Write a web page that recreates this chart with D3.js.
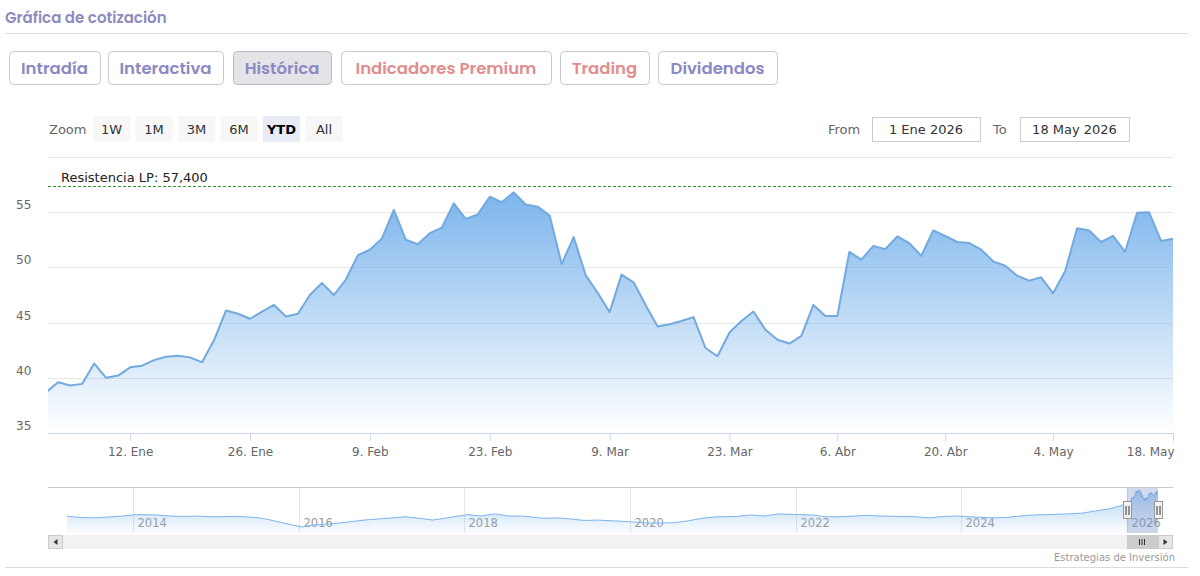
<!DOCTYPE html>
<html>
<head>
<meta charset="utf-8">
<script src="https://cdn.jsdelivr.net/npm/d3@7/dist/d3.min.js"></script>
<style>
	body { margin: 0; background: #fff; }
	text { font-family: "DejaVu Sans", sans-serif; }
	.head { font-family: "Poppins", "Open Sans", sans-serif; font-weight: 600; }
</style>
</head>
<body>
<script>

	var width  = 1200;
	var height = 576;

	var svg = d3.select('body').append('svg')
		.attr('width', width)
		.attr('height', height)
		.style('display', 'block');

	/* ---------------------------- DATA ---------------------------- */

	// market holidays inside the YTD window (no quote on those days)
	var holidays   = ['2026-04-03', '2026-04-06', '2026-05-01'];
	var firstDay   = '2026-01-02';
	var lastDay    = '2026-05-18';

	// last close of 2025, only the clipped segment at the left edge uses it
	var prevClose  = 38.7;

	// daily closes, 2 Ene -> 18 May 2026
	var prices = [
		39.6, 39.3, 39.45, 41.3, 40.0, 40.2, 40.95, 41.1, 41.6, 41.9, 42.0,
		41.85, 41.4, 43.4, 46.1, 45.8, 45.35, 46.0, 46.6, 45.55, 45.8,
		47.5, 48.6, 47.5, 48.9, 51.1, 51.6, 52.6, 55.2, 52.5, 52.1,
		53.1, 53.6, 55.8, 54.4, 54.8, 56.4, 55.9, 56.8, 55.7, 55.5,
		54.7, 50.3, 52.75, 49.3, 47.7, 45.95, 49.35, 48.65, 46.6, 44.65,
		44.85, 45.15, 45.5, 42.7, 41.95, 44.1, 45.15, 46.0, 44.35, 43.45,
		43.1, 43.8,
		46.6, 45.6, 45.6, 51.4, 50.7, 51.95, 51.65, 52.8, 52.2, 51.05,
		53.35, 52.85, 52.3, 52.2, 51.6, 50.55, 50.15, 49.25, 48.8, 49.1,
		47.65, 49.65, 53.55, 53.35, 52.3, 52.85, 51.4, 54.95, 55.0, 52.4, 52.6
	];

	var tickDates  = ['2026-01-12', '2026-01-26', '2026-02-09', '2026-02-23', '2026-03-09',
	                  '2026-03-23', '2026-04-06', '2026-04-20', '2026-05-04', '2026-05-18'];
	var tickLabels = ['12. Ene', '26. Ene', '9. Feb', '23. Feb', '9. Mar',
	                  '23. Mar', '6. Abr', '20. Abr', '4. May', '18. May'];

	var yTicks     = [35, 40, 45, 50, 55, 60];
	var resistance = 57.4;
	var resLabel   = 'Resistencia LP: 57,400';

	// long history for the navigator (roughly every two months)
	var navDates = [
		'2013-03', '2013-05', '2013-07', '2013-09', '2013-11', '2014-01', '2014-04', '2014-06',
		'2014-08', '2014-10', '2014-12', '2015-03', '2015-05', '2015-07', '2015-09', '2015-11',
		'2016-01', '2016-03', '2016-05', '2016-07', '2016-10', '2016-12', '2017-02', '2017-04',
		'2017-06', '2017-08', '2017-10', '2018-01', '2018-03', '2018-05', '2018-07', '2018-09',
		'2018-12', '2019-02', '2019-04', '2019-06', '2019-08', '2019-10', '2020-01', '2020-03',
		'2020-05', '2020-07', '2020-09', '2020-11', '2021-01', '2021-04', '2021-06', '2021-08',
		'2021-10', '2022-01', '2022-03', '2022-05', '2022-07', '2022-09', '2022-11', '2023-01',
		'2023-04', '2023-06', '2023-08', '2023-10', '2023-12', '2024-02', '2024-05', '2024-07',
		'2024-09', '2024-11', '2025-01', '2025-04', '2025-06', '2025-08', '2025-10', '2025-12'
	];
	var navPrices = [
		21, 19, 18.5, 19.8, 21, 23, 22.5, 21,
		20.5, 21, 20, 20.5, 20, 18.5, 14.5, 10,
		6, 9, 10, 12, 15.5, 17, 18.5, 20,
		18, 15.5, 18.5, 23, 21, 24, 21, 21,
		18, 18.5, 17, 15, 15.5, 14.5, 13, 11.5,
		11.5, 12, 14.5, 18, 20, 20.5, 22.5, 21,
		24, 23, 22.5, 20, 20, 21, 22, 21,
		20.5, 20, 18.5, 20.5, 21, 20, 18.5, 19,
		21, 22.5, 23, 24, 25, 28, 31, 36
	];

	var tabNames   = ['Intradía', 'Interactiva', 'Histórica', 'Indicadores Premium', 'Trading', 'Dividendos'];
	var zoomNames  = ['1W', '1M', '3M', '6M', 'YTD', 'All'];
	var fromText   = '1 Ene 2026';
	var toText     = '18 May 2026';

	/* --------------------------- LAYOUT --------------------------- */

	var plot = { left: 48, right: 1173, top: 157, bottom: 433 };
	var nav  = { left: 63, right: 1158, top: 488, bottom: 533 };

	var tabBoxes  = [[9, 91], [108, 115], [233, 98], [341, 210], [560, 89], [658, 119]];
	var tabColor  = ['#8b88c3', '#8b88c3', '#8b88c3', '#e28c8e', '#e28c8e', '#8b88c3'];

	var lineColor = '#72a9df';
	var fillColor = '#7cb5ec';

	/* ---------------------------- HEADER -------------------------- */

	svg.append('text')
		.attr('class', 'head')
		.attr('x', 5).attr('y', 23)
		.attr('font-size', 15)
		.attr('fill', '#8d8bbd')
		.text('Gráfica de cotización');

	hLine(5, 1188, 33.5, '#dcdcdc');

	var tabs = svg.append('g').selectAll('g')
		.data(tabNames)
		.enter().append('g');

	tabs.append('rect')
		.attr('x', function(d, i) { return tabBoxes[i][0] + 0.5; })
		.attr('y', 51.5)
		.attr('width', function(d, i) { return tabBoxes[i][1]; })
		.attr('height', 33)
		.attr('rx', 4)
		.attr('fill', function(d) { return d == 'Histórica' ? '#e3e3e8' : '#fff'; })
		.attr('stroke', function(d) { return d == 'Histórica' ? '#b9b9c2' : '#c9c9d2'; });

	tabs.append('text')
		.attr('class', 'head')
		.attr('x', function(d, i) { return tabBoxes[i][0] + tabBoxes[i][1] / 2; })
		.attr('y', 74)
		.attr('text-anchor', 'middle')
		.attr('font-size', 16.5)
		.attr('fill', function(d, i) { return tabColor[i]; })
		.text(function(d) { return d; });

	/* ------------------------ RANGE SELECTOR ---------------------- */

	svg.append('text')
		.attr('x', 49).attr('y', 134)
		.attr('font-size', 13)
		.attr('fill', '#666')
		.text('Zoom');

	var zb = svg.append('g').selectAll('g')
		.data(zoomNames)
		.enter().append('g')
		.attr('transform', function(d, i) { return 'translate(' + (93 + i * 42.5) + ',116)'; });

	zb.append('rect')
		.attr('width', 37).attr('height', 26)
		.attr('fill', function(d) { return d == 'YTD' ? '#e6ebf5' : '#f7f7f7'; });

	zb.append('text')
		.attr('x', 18.5).attr('y', 18)
		.attr('text-anchor', 'middle')
		.attr('font-size', 13)
		.attr('font-weight', function(d) { return d == 'YTD' ? 'bold' : 'normal'; })
		.attr('fill', function(d) { return d == 'YTD' ? '#000' : '#333'; })
		.text(function(d) { return d; });

	inputBox('From', 828, 872, 108, fromText);
	inputBox('To', 993, 1020, 109, toText);

	function inputBox(label, lx, bx, bw, value) {
		svg.append('text')
			.attr('x', lx).attr('y', 134)
			.attr('font-size', 13).attr('fill', '#666')
			.text(label);
		svg.append('rect')
			.attr('x', bx + 0.5).attr('y', 117.5)
			.attr('width', bw).attr('height', 24)
			.attr('fill', '#fff').attr('stroke', '#ccc');
		svg.append('text')
			.attr('x', bx + bw / 2).attr('y', 134)
			.attr('text-anchor', 'middle')
			.attr('font-size', 13).attr('fill', '#333')
			.text(value);
	}

	/* ------------------------- MAIN CHART ------------------------- */

	var parse = d3.utcParse('%Y-%m-%d');

	// trading days: weekdays minus the holidays
	var days = d3.utcDay.range(parse(firstDay), d3.utcDay.offset(parse(lastDay), 1))
		.filter(function(d) {
			var wd = d.getUTCDay();
			return wd != 0 && wd != 6 && holidays.indexOf(d3.utcFormat('%Y-%m-%d')(d)) < 0;
		});

	var points = [{ i: -1, v: prevClose }].concat(prices.map(function(v, i) {
		return { i: i, v: v };
	}));

	// ordinal axis: one slot per trading day
	var x = d3.scaleLinear()
		.domain([-0.85, days.length - 1])
		.range([plot.left, plot.right]);

	var y = d3.scaleLinear()
		.domain([35, 60])
		.range([plot.bottom, plot.top]);

	var defs = svg.append('defs');

	defs.append('clipPath').attr('id', 'plotClip')
		.append('rect')
		.attr('x', plot.left).attr('y', plot.top - 5)
		.attr('width', plot.right - plot.left + 1)
		.attr('height', plot.bottom - plot.top + 5);

	gradient('mainFill', 1, 0);
	gradient('navFill', 0.6, 0.03);

	function gradient(id, top, bottom) {
		var g = defs.append('linearGradient').attr('id', id)
			.attr('x1', 0).attr('y1', 0).attr('x2', 0).attr('y2', 1);
		g.append('stop').attr('offset', 0).attr('stop-color', fillColor).attr('stop-opacity', top);
		g.append('stop').attr('offset', 1).attr('stop-color', fillColor).attr('stop-opacity', bottom);
	}

	// grid
	svg.append('g').selectAll('line')
		.data(yTicks)
		.enter().append('line')
		.attr('x1', plot.left).attr('x2', plot.right)
		.attr('y1', function(d) { return Math.round(y(d)) + 0.5; })
		.attr('y2', function(d) { return Math.round(y(d)) + 0.5; })
		.attr('stroke', '#e6e6e6');

	svg.append('g').selectAll('text')
		.data(yTicks.slice(0, -1))
		.enter().append('text')
		.attr('x', 16)
		.attr('y', function(d) { return y(d) - 3; })
		.attr('font-size', 12)
		.attr('fill', '#666')
		.text(function(d) { return d; });

	var series = svg.append('g').attr('clip-path', 'url(#plotClip)');

	series.append('path')
		.datum(points)
		.attr('fill', 'url(#mainFill)')
		.attr('d', d3.area()
			.x(function(d) { return x(d.i); })
			.y0(y(35))
			.y1(function(d) { return y(d.v); }));

	series.append('path')
		.datum(points)
		.attr('fill', 'none')
		.attr('stroke', lineColor)
		.attr('stroke-width', 2)
		.attr('stroke-linejoin', 'round')
		.attr('d', d3.line()
			.x(function(d) { return x(d.i); })
			.y(function(d) { return y(d.v); }));

	// long term resistance
	svg.append('line')
		.attr('x1', plot.left).attr('x2', plot.right)
		.attr('y1', Math.round(y(resistance)) + 0.5).attr('y2', Math.round(y(resistance)) + 0.5)
		.attr('stroke', '#2e9a2e')
		.attr('stroke-dasharray', '3,2');

	svg.append('text')
		.attr('x', 61).attr('y', y(resistance) - 4)
		.attr('font-size', 13)
		.attr('fill', '#222')
		.text(resLabel);

	// x axis
	var tickIdx = tickDates.map(function(t) { return d3.bisectLeft(days, parse(t)); });

	var xAxis = svg.append('g')
		.attr('transform', 'translate(0,' + plot.bottom + ')')
		.call(d3.axisBottom(x)
			.tickValues(tickIdx)
			.tickFormat(function(d, k) { return tickLabels[k]; })
			.tickSize(8)
			.tickSizeOuter(0)
			.tickPadding(6));

	xAxis.select('.domain').attr('stroke', '#ccd6eb').attr('d', 'M' + plot.left + ',0.5H' + plot.right);
	xAxis.selectAll('.tick line').attr('stroke', '#ccd6eb');
	xAxis.selectAll('.tick text')
		.attr('font-size', 12)
		.attr('fill', '#666')
		.attr('font-family', 'DejaVu Sans');

	// last label is pulled in so it does not run off the plot
	xAxis.selectAll('.tick:last-child text')
		.attr('text-anchor', 'end')
		.attr('x', 1);

	/* -------------------------- NAVIGATOR ------------------------- */

	var parseMonth = d3.utcParse('%Y-%m');

	var navSeries = navDates.map(function(d, i) {
		return { t: d3.utcDay.offset(parseMonth(d), 14), v: navPrices[i] };
	}).concat(prices.map(function(v, i) {
		return { t: days[i], v: v };
	}));

	var nx = d3.scaleUtc()
		.domain([parse('2013-02-26'), parse(lastDay)])
		.range([nav.left, nav.right]);

	var ny = d3.scaleLinear()
		.domain(d3.extent(navSeries, function(d) { return d.v; }))
		.range([527, 490]);

	var navYears = d3.utcYear.every(2).range(parse('2014-01-01'), parse('2027-01-01'));

	var navGrid = svg.append('g').selectAll('g')
		.data(navYears)
		.enter().append('g')
		.attr('transform', function(d) { return 'translate(' + (Math.round(nx(d)) + 0.5) + ',0)'; });

	navGrid.append('line')
		.attr('y1', nav.top).attr('y2', nav.bottom)
		.attr('stroke', '#e6e6e6');

	svg.append('path')
		.datum(navSeries)
		.attr('fill', 'url(#navFill)')
		.attr('d', d3.area()
			.x(function(d) { return nx(d.t); })
			.y0(nav.bottom)
			.y1(function(d) { return ny(d.v); }));

	svg.append('path')
		.datum(navSeries)
		.attr('fill', 'none')
		.attr('stroke', fillColor)
		.attr('stroke-width', 1)
		.attr('d', d3.line()
			.x(function(d) { return nx(d.t); })
			.y(function(d) { return ny(d.v); }));

	navGrid.append('text')
		.attr('x', 4).attr('y', 527)
		.attr('font-size', 11.5)
		.attr('fill', '#999')
		.text(d3.utcFormat('%Y'));

	hLine(plot.left, plot.right, 487.5, '#cccccc');

	// selected window
	var selA = nx(parse('2026-01-01'));
	var selB = nx(parse(lastDay));

	svg.append('rect')
		.attr('x', selA).attr('y', nav.top)
		.attr('width', selB - selA).attr('height', nav.bottom - nav.top)
		.attr('fill', 'rgba(102,133,194,0.3)');

	[selA, selB].forEach(function(hx) {
		var h = svg.append('g').attr('transform', 'translate(' + Math.round(hx) + ',501)');
		h.append('rect')
			.attr('x', -3.5).attr('y', 0.5).attr('width', 8).attr('height', 17)
			.attr('fill', '#f2f2f2').attr('stroke', '#999');
		h.append('path')
			.attr('d', 'M-1,5V14M2,5V14')
			.attr('stroke', '#333');
	});

	// scrollbar
	svg.append('rect')
		.attr('x', plot.left).attr('y', 535)
		.attr('width', plot.right - plot.left).attr('height', 14)
		.attr('fill', '#f2f2f2');

	svg.append('rect')
		.attr('x', selA).attr('y', 535)
		.attr('width', selB - selA).attr('height', 14)
		.attr('fill', '#cccccc');

	svg.append('path')
		.attr('d', 'M' + (Math.round((selA + selB) / 2) - 2.5) + ',539V545m2.5,-6V545m2.5,-6V545')
		.attr('stroke', '#333');

	scrollButton(plot.left, -1);
	scrollButton(nav.right, 1);

	function scrollButton(bx, dir) {
		svg.append('rect')
			.attr('x', bx + 0.5).attr('y', 535.5)
			.attr('width', 14).attr('height', 13)
			.attr('fill', '#e6e6e6').attr('stroke', '#cccccc');
		var cx = bx + 7.5;
		svg.append('path')
			.attr('d', 'M' + (cx + 2 * dir) + ',542 L' + (cx - 2 * dir) + ',539 L' + (cx - 2 * dir) + ',545 Z')
			.attr('fill', '#333');
	}

	svg.append('text')
		.attr('x', 1175).attr('y', 561)
		.attr('text-anchor', 'end')
		.attr('font-size', 10)
		.attr('fill', '#999')
		.text('Estrategias de Inversión');

	hLine(5, 1188, 567.5, '#dcdcdc');

	function hLine(x1, x2, yy, color) {
		svg.append('line')
			.attr('x1', x1).attr('x2', x2)
			.attr('y1', yy).attr('y2', yy)
			.attr('stroke', color);
	}

</script>
</body>
</html>
